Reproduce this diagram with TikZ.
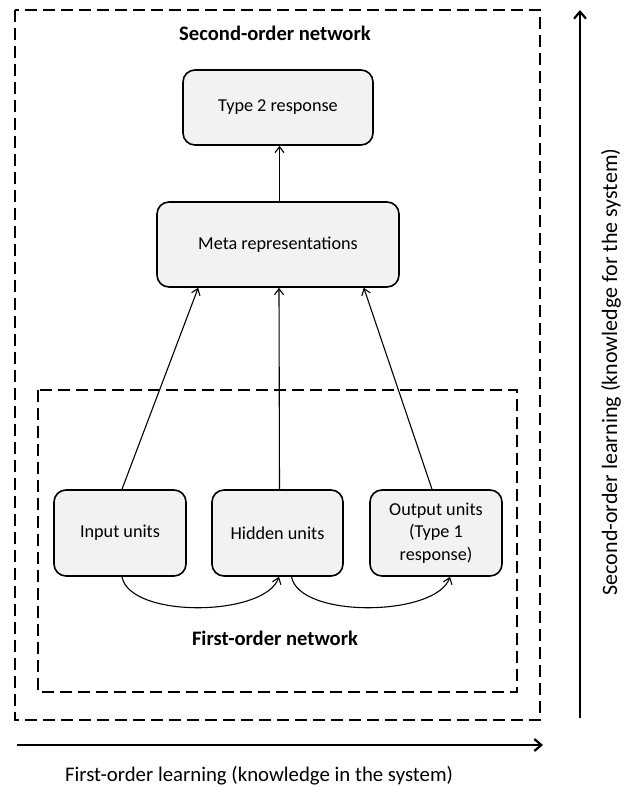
\documentclass[tikz,border=0pt]{standalone}
\usepackage{fontspec}
\setmainfont{Carlito}
\usetikzlibrary{arrows.meta,calc}
\begin{document}
\begin{tikzpicture}[x=1pt,y=-1pt,
  unitbox/.style={draw=black,line width=1.6pt,fill=black!5,rounded corners=12pt,align=center,font=\fontsize{18.2}{22.5}\selectfont,inner sep=0pt},
  dashbox/.style={draw=black,line width=1.8pt,dash pattern=on 12pt off 6pt},
  conn/.style={line width=1.1pt,-{Straight Barb[length=6pt,width=9pt,line width=1.1pt]}},
  bigarrow/.style={line width=2.2pt,-{Straight Barb[length=7pt,width=12pt,line width=2.2pt]}},
  title/.style={font=\fontsize{20.6}{24}\selectfont\bfseries},
  axislabel/.style={font=\fontsize{20.8}{24}\selectfont}
]
\useasboundingbox (0,0) rectangle (625,787);
\draw[dashbox] (15,10) rectangle (540,720);
\draw[dashbox] (38,390) rectangle (517,692);
\node[title] (t2) at (275,33) {Second-order network};
\node[title] (t1) at (275,638) {First-order network};
\node[unitbox,minimum width=190pt,minimum height=75pt] (type2) at (278,107.5) {Type 2 response};
\node[unitbox,minimum width=242pt,minimum height=85pt] (meta) at (278,244.5) {Meta representations};
\node[unitbox,minimum width=132pt,minimum height=86pt] (input) at (120,533) {Input units};
\node[unitbox,minimum width=131pt,minimum height=86pt] (hidden) at (277.5,533) {Hidden units};
\node[unitbox,minimum width=132pt,minimum height=86pt] (output) at (436,533) {Output units\\(Type 1\\response)};
\draw[conn] ($(meta.north)+(1.5,0)$) -- ($(type2.south)+(1.5,0)$);
\draw[conn] ($(input.north)+(2,0)$) -- ($(meta.south west)+(42,0)$);
\draw[conn] ($(hidden.north)+(2,0)$) -- ($(meta.south)+(1,0)$);
\draw[conn] ($(output.north)+(-4,0)$) -- ($(meta.south east)+(-36,0)$);
\draw[conn] ($(input.south)+(2,0)$) .. controls +(8,42) and +(-14,40) .. ($(hidden.south)+(1.5,0)$);
\draw[conn] ($(hidden.south)+(14,0)$) .. controls +(8,42) and +(-14,40) .. ($(output.south)+(14,0)$);
\coordinate (hs) at (17,745);
\coordinate (he) at (543,745);
\draw[bigarrow] (hs) -- (he);
\coordinate (vs) at (580,718);
\coordinate (ve) at (580,10);
\draw[bigarrow] (vs) -- (ve);
\node[axislabel] (hl) at (259,776) {First-order learning (knowledge in the system)};
\node[axislabel,rotate=90,font=\fontsize{22}{26}\selectfont] (vl) at (611,372) {Second-order learning (knowledge for the system)};
\end{tikzpicture}
\end{document}
